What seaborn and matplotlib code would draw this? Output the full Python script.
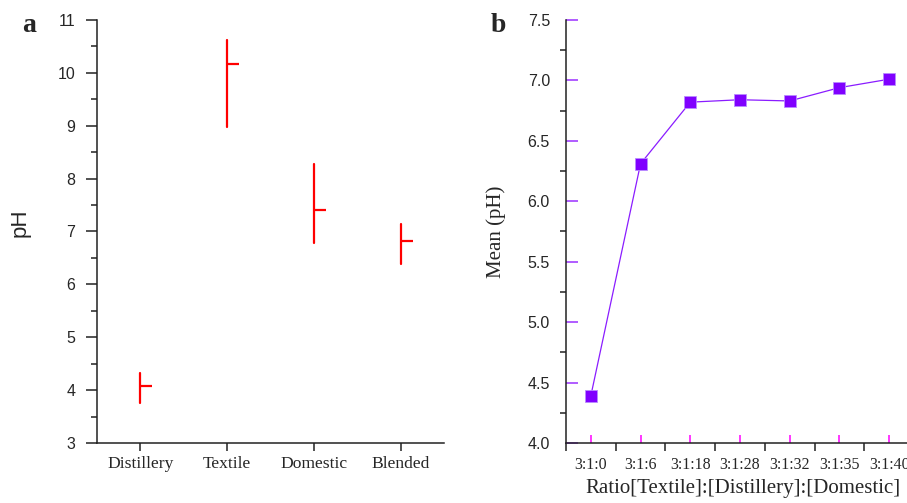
import pandas as pd
import seaborn as sns
import numpy as np
from matplotlib import pyplot as plt
from matplotlib.ticker import MultipleLocator, FixedLocator, FormatStrFormatter

sns.set_style("ticks")
plt.rcParams["font.family"] = ["Liberation Sans", "DejaVu Sans"]

# panel a: pH range (min, mean, max) per wastewater
sources = ["Distillery", "Textile", "Domestic", "Blended"]
ph_low = [3.76, 8.98, 6.78, 6.38]
ph_mean = [4.08, 10.16, 7.40, 6.82]
ph_high = [4.33, 10.62, 8.28, 7.14]

# panel b: mean pH per blending ratio
ratios = ["3:1:0", "3:1:6", "3:1:18", "3:1:28", "3:1:32", "3:1:35", "3:1:40"]
mean_ph = [4.39, 6.31, 6.82, 6.84, 6.83, 6.94, 7.01]

SERIF = "Liberation Serif"
SANS = "Liberation Sans"
SPINE = "#222222"

fig = plt.figure(figsize=(9.07, 5.03), dpi=100)
ax_a = fig.add_axes([0.1069, 0.1193, 0.3826, 0.841])
ax_b = fig.add_axes([0.624, 0.1193, 0.3837, 0.841])

# --- a ---
df_a = pd.DataFrame({
    "source": np.repeat(sources, 3),
    "pH": np.ravel(np.column_stack([ph_low, ph_mean, ph_high])),
})
sns.pointplot(
    data=df_a, x="source", y="pH", ax=ax_a,
    estimator=np.median, errorbar=("pi", 100),
    color="#ff0000", linestyle="none", marker=1,
    markersize=8.6, markeredgewidth=1.6, linewidth=1.6,
    err_kws={"linewidth": 1.6},
)
ax_a.set_xlim(-0.5, 3.5)
ax_a.set_ylim(3, 11)
ax_a.yaxis.set_major_locator(MultipleLocator(1))
ax_a.yaxis.set_minor_locator(MultipleLocator(0.5))
ax_a.tick_params(axis="y", which="major", direction="out", length=7.7,
                 width=1.1, color=SPINE, pad=8, labelsize=11.5)
ax_a.tick_params(axis="y", which="minor", direction="out", length=4.3,
                 width=1.1, color=SPINE)
ax_a.tick_params(axis="x", which="major", direction="out", length=6,
                 width=1.1, color=SPINE, pad=3.5)
for lab in ax_a.get_xticklabels():
    lab.set_fontfamily(SERIF)
    lab.set_fontsize(12.6)
ax_a.set_xlabel("")
ax_a.set_ylabel("pH", fontsize=16, fontfamily=SANS)
ax_a.yaxis.set_label_coords(-0.19, 0.52)
sns.despine(ax=ax_a)
for s in ["left", "bottom"]:
    ax_a.spines[s].set_color(SPINE)
    ax_a.spines[s].set_linewidth(1.1)

# --- b ---
df_b = pd.DataFrame({"ratio": ratios, "mean": mean_ph})
sns.pointplot(
    data=df_b, x="ratio", y="mean", ax=ax_b, errorbar=None,
    color="#8a1cff", marker="s", markersize=8.2,
    markerfacecolor="#8000ff", markeredgecolor="#b98cff",
    markeredgewidth=0.6, linewidth=0.9,
)
ax_b.set_xlim(-0.5, 6.5)
ax_b.set_ylim(4.0, 7.5)
ax_b.yaxis.set_major_locator(MultipleLocator(0.5))
ax_b.yaxis.set_minor_locator(MultipleLocator(0.25))
ax_b.yaxis.set_major_formatter(FormatStrFormatter("%.1f"))
ax_b.xaxis.set_minor_locator(FixedLocator(np.arange(-0.5, 7.0, 1.0)))
ax_b.tick_params(axis="y", which="major", direction="in", length=8.5,
                 width=1.1, color="#9b30ff", pad=11.5, labelsize=11.5)
ax_b.tick_params(axis="y", which="minor", direction="out", length=4,
                 width=1.1, color=SPINE)
ax_b.tick_params(axis="x", which="major", direction="in", length=6,
                 width=1.1, color="#ff00ff", pad=10)
ax_b.tick_params(axis="x", which="minor", direction="out", length=6,
                 width=1.1, color=SPINE)
for lab in ax_b.get_xticklabels():
    lab.set_fontfamily(SERIF)
    lab.set_fontsize(11.5)
ax_b.set_xlabel("Ratio[Textile]:[Distillery]:[Domestic]", fontsize=15,
                fontfamily=SERIF)
ax_b.xaxis.set_label_coords(0.509, -0.085)
ax_b.set_ylabel("Mean (pH)", fontsize=15, fontfamily=SERIF)
ax_b.yaxis.set_label_coords(-0.172, 0.50)
sns.despine(ax=ax_b)
for s in ["left", "bottom"]:
    ax_b.spines[s].set_color(SPINE)
    ax_b.spines[s].set_linewidth(1.1)

fig.text(22 / 907, 1 - 32 / 503, "a", fontsize=20, fontweight="bold",
         fontfamily=SERIF, va="baseline")
fig.text(491 / 907, 1 - 32 / 503, "b", fontsize=20, fontweight="bold",
         fontfamily=SERIF, va="baseline")

plt.savefig("out.png", dpi=100)
